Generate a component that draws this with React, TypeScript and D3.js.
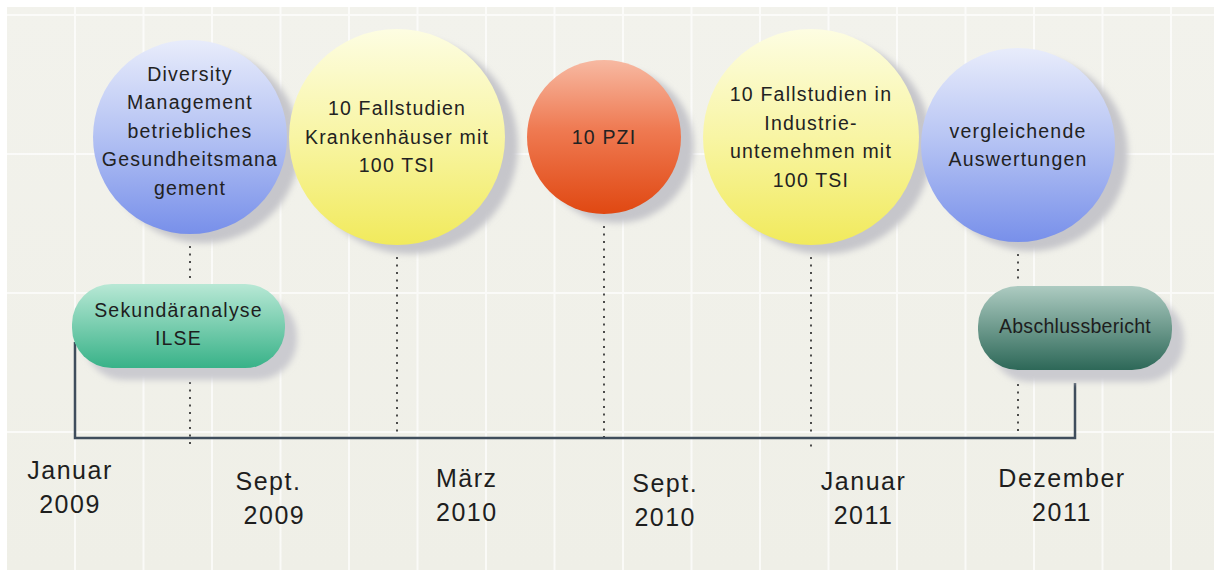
import React, { useEffect, useRef } from "react";
import * as d3 from "d3";

// phases shown as circles (top row)
const phaseLines: string[][] = [
  ["Diversity", "Management", "betriebliches", "Gesundheitsmana", "gement"],
  ["10 Fallstudien", "Krankenhäuser mit", "100 TSI"],
  ["10 PZI"],
  ["10 Fallstudien in", "Industrie-", "untemehmen mit", "100 TSI"],
  ["vergleichende", "Auswertungen"],
];
const phaseKinds = ["blue", "yellow", "red", "yellow", "blue"];

// pills at start and end of the timeline
const pillLines: string[][] = [["Sekundäranalyse", "ILSE"], ["Abschlussbericht"]];
const pillKinds = ["green", "teal"];

// date labels under the axis
const monthLabels = ["Januar", "Sept.", "März", "Sept.", "Januar", "Dezember"];
const yearLabels = ["2009", "2009", "2010", "2010", "2011", "2011"];

const W = 1214;
const H = 576;

const radius: Record<string, number> = { blue: 97, yellow: 108, red: 77 };

const App = () => {
  const svgRef = useRef<SVGSVGElement>(null);

  useEffect(() => {
    const svg = d3.select(svgRef.current);
    svg.selectAll("*").remove();
    svg.attr("width", W).attr("height", H);

    const font = "'Liberation Sans', Arial, sans-serif";
    const defs = svg.append("defs");

    const linGrad = (id: string, stops: [number, string][]) => {
      const g = defs
        .append("linearGradient")
        .attr("id", id)
        .attr("x1", 0)
        .attr("y1", 0)
        .attr("x2", 0)
        .attr("y2", 1);
      stops.forEach(([o, c]) => g.append("stop").attr("offset", o).attr("stop-color", c));
    };
    linGrad("g-blue", [[0, "#e8ecfb"], [0.45, "#b9c6f4"], [1, "#7890ea"]]);
    linGrad("g-yellow", [[0, "#fdfde2"], [0.5, "#f8f5a4"], [1, "#f1ea5c"]]);
    linGrad("g-red", [[0, "#f7b9a2"], [0.45, "#ef7a52"], [1, "#e04812"]]);
    linGrad("g-green", [[0, "#b8e8d5"], [1, "#38b288"]]);
    linGrad("g-teal", [[0, "#adcbc1"], [1, "#2d6858"]]);
    linGrad("g-bg", [[0, "#f2f2ec"], [1, "#efefe7"]]);

    defs
      .append("filter")
      .attr("id", "blur")
      .attr("x", "-20%")
      .attr("y", "-20%")
      .attr("width", "140%")
      .attr("height", "140%")
      .append("feGaussianBlur")
      .attr("stdDeviation", 3);

    // background panel
    svg.append("rect").attr("width", W).attr("height", H).attr("fill", "#ffffff");
    svg
      .append("rect")
      .attr("x", 7)
      .attr("y", 7)
      .attr("width", W - 7)
      .attr("height", 563)
      .attr("fill", "url(#g-bg)");

    // faint white grid
    const grid = svg.append("g").attr("stroke", "#ffffff").attr("stroke-width", 2).attr("opacity", 0.7);
    grid
      .selectAll("line.v")
      .data(d3.range(75, W, 68.5))
      .join("line")
      .attr("x1", (d) => d)
      .attr("x2", (d) => d)
      .attr("y1", 7)
      .attr("y2", 570);
    grid
      .selectAll("line.h")
      .data(d3.range(15, 570, 139))
      .join("line")
      .attr("x1", 7)
      .attr("x2", W)
      .attr("y1", (d) => d)
      .attr("y2", (d) => d);

    const xPhase = d3.scalePoint<number>().domain(d3.range(phaseLines.length)).range([190, 1018]);
    const xLabel = d3.scalePoint<number>().domain(d3.range(monthLabels.length)).range([70, 1062]);
    const axisY = 438;
    const cy = (i: number) => (i === 4 ? 145 : 137);

    // pill geometry (start pill left of the first column, end pill right of the last)
    const pills = pillLines.map((lines, i) => ({
      lines,
      kind: pillKinds[i],
      x: i === 0 ? 72 : 978,
      w: i === 0 ? 213 : 194,
      y: i === 0 ? 284 : 286,
      h: 84,
    }));

    // dotted connectors
    const dots = svg
      .append("g")
      .attr("stroke", "#3a3a3a")
      .attr("stroke-width", 1.8)
      .attr("stroke-dasharray", "2 5.5");
    phaseLines.forEach((_, i) => {
      const x = xPhase(i)!;
      const top = cy(i) + radius[phaseKinds[i]] + 12;
      const segs: [number, number][] =
        i === 0 || i === phaseLines.length - 1
          ? [
              [top, pills[i === 0 ? 0 : 1].y - 2],
              [pills[i === 0 ? 0 : 1].y + 98, i === 0 ? axisY + 10 : axisY - 6],
            ]
          : [[top, i === 3 ? axisY + 10 : axisY]];
      segs.forEach(([a, b]) =>
        dots.append("line").attr("x1", x).attr("x2", x).attr("y1", a).attr("y2", b)
      );
    });

    // timeline axis with end brackets
    svg
      .append("path")
      .attr(
        "d",
        d3.line()([
          [75, pills[0].y + 58],
          [75, axisY],
          [1075, axisY],
          [1075, pills[1].y + 97],
        ])
      )
      .attr("fill", "none")
      .attr("stroke", "#3f4d5c")
      .attr("stroke-width", 2.5);

    // circles
    const circles = svg
      .append("g")
      .selectAll("g")
      .data(phaseLines.map((lines, i) => ({ lines, kind: phaseKinds[i], i })))
      .join("g")
      .attr("transform", (d) => `translate(${xPhase(d.i)},${cy(d.i)})`);
    circles
      .append("circle")
      .attr("cx", 13)
      .attr("cy", 9)
      .attr("r", (d) => radius[d.kind])
      .attr("fill", "#c6c6cb")
      .attr("filter", "url(#blur)");
    circles
      .append("circle")
      .attr("r", (d) => radius[d.kind])
      .attr("fill", (d) => `url(#g-${d.kind})`);
    circles.each(function (d) {
      const n = d.lines.length;
      const lh = 28.5;
      d3.select(this)
        .selectAll("text")
        .data(d.lines)
        .join("text")
        .attr("x", 0)
        .attr("y", (_, j) => (j - (n - 1) / 2) * lh + (d.i === 0 ? -6 : 0))
        .attr("dy", "0.35em")
        .attr("text-anchor", "middle")
        .attr("font-family", font)
        .attr("font-size", 19.5)
        .attr("letter-spacing", 1.2)
        .attr("fill", "#222")
        .text((t) => t);
    });

    // pills
    const pg = svg
      .append("g")
      .selectAll("g")
      .data(pills)
      .join("g");
    pg.append("rect")
      .attr("x", (d) => d.x + 12)
      .attr("y", (d) => d.y + 12)
      .attr("width", (d) => d.w)
      .attr("height", (d) => d.h)
      .attr("rx", 40)
      .attr("fill", "#cbcbd0")
      .attr("filter", "url(#blur)");
    pg.append("rect")
      .attr("x", (d) => d.x)
      .attr("y", (d) => d.y)
      .attr("width", (d) => d.w)
      .attr("height", (d) => d.h)
      .attr("rx", 40)
      .attr("fill", (d) => `url(#g-${d.kind})`);
    pg.each(function (d) {
      const n = d.lines.length;
      d3.select(this)
        .selectAll("text")
        .data(d.lines)
        .join("text")
        .attr("x", d.x + d.w / 2)
        .attr("y", (_, j) => d.y + d.h / 2 - 2 + (j - (n - 1) / 2) * 28)
        .attr("dy", "0.35em")
        .attr("text-anchor", "middle")
        .attr("font-family", font)
        .attr("font-size", 19.5)
        .attr("letter-spacing", d.lines.length > 1 ? 1.2 : 0.3)
        .attr("fill", "#1e1e1e")
        .text((t) => t);
    });

    // date labels
    const lbl = svg
      .append("g")
      .selectAll("text")
      .data(monthLabels.map((m, i) => ({ m, y: yearLabels[i], i })))
      .join("text")
      .attr("text-anchor", "middle")
      .attr("font-family", font)
      .attr("font-size", 25)
      .attr("letter-spacing", 1.5)
      .attr("fill", "#1e1e1e");
    const baseY = [470, 481, 478, 483, 481, 478];
    lbl
      .append("tspan")
      .attr("x", (d) => xLabel(d.i)!)
      .attr("y", (d) => baseY[d.i])
      .attr("dy", "0.35em")
      .text((d) => d.m);
    lbl
      .append("tspan")
      .attr("x", (d) => xLabel(d.i)! + (d.i === 1 ? 6 : 0))
      .attr("y", (d) => baseY[d.i] + 34)
      .attr("dy", "0.35em")
      .text((d) => d.y);
  }, []);

  return (
    <div style={{ position: "absolute", left: 0, top: 0, width: W, height: H }}>
      <svg ref={svgRef}></svg>
    </div>
  );
};

export default App;
